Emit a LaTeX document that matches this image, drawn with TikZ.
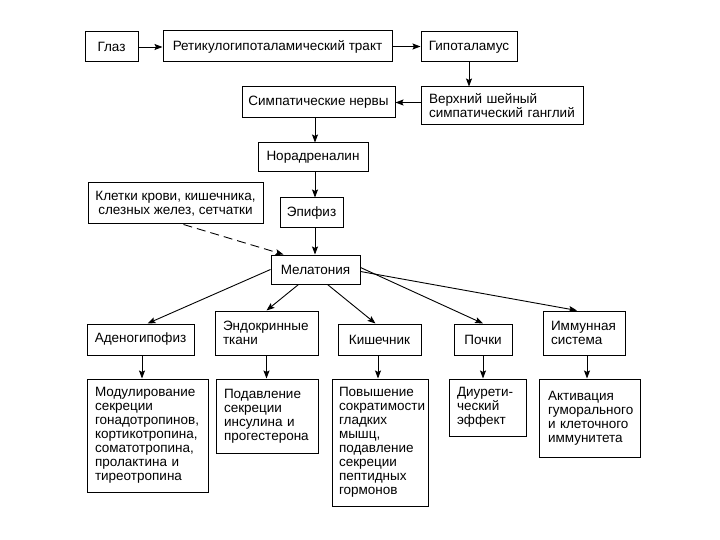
\documentclass[tikz,border=0pt]{standalone}
\usepackage{fontspec}
\setmainfont{Liberation Sans}
\usetikzlibrary{arrows.meta,calc}
\begin{document}
\begin{tikzpicture}[x=1pt,y=-1pt,
  box/.style={draw,line width=1pt,inner sep=0pt,align=center,font=\fontsize{13.5}{14}\selectfont},
  lbox/.style={draw,line width=1pt,inner xsep=8pt,inner ysep=0pt,align=left,font=\fontsize{13.5}{14}\selectfont},
  arr/.style={line width=0.9pt,-{Stealth[length=8pt,width=6pt,inset=1.5pt]}}]
\useasboundingbox (0,0) rectangle (720,540);
% top row
\node[box,minimum width=53pt,minimum height=30pt] (glaz) at (111.5,47) {Глаз};
\node[box,minimum width=229pt,minimum height=31pt] (ret) at (277.5,46.5) {Ретикулогипоталамический тракт};
\node[box,minimum width=96pt,minimum height=30pt] (gipo) at (469,47) {Гипоталамус};
\node[lbox,text width=146pt,minimum height=38pt] (gang) at (502,106) {Верхний шейный\\симпатический ганглий};
\node[box,minimum width=153pt,minimum height=31pt] (simp) at (318.5,102.5) {Симпатические нервы};
\node[box,minimum width=110pt,minimum height=29pt] (norad) at (313,157.5) {Норадреналин};
\node[box,minimum width=63pt,minimum height=30pt] (epif) at (311.5,213) {Эпифиз};
\node[box,minimum width=175pt,minimum height=41pt] (klet) at (175.5,203.5) {Клетки крови, кишечника,\\слезных желез, сетчатки};
\node[box,minimum width=89pt,minimum height=29pt] (melat) at (315.5,269.5) {Мелатония};
% middle row
\node[box,minimum width=107pt,minimum height=31pt] (aden) at (140.5,339.5) {Аденогипофиз};
\node[lbox,text width=87pt,minimum height=44pt] (endo) at (266.5,333) {Эндокринные\\ткани};
\node[box,minimum width=83pt,minimum height=31pt] (kish) at (379.5,339.5) {Кишечник};
\node[box,minimum width=58pt,minimum height=31pt] (pochki) at (483,339.5) {Почки};
\node[lbox,text width=66pt,minimum height=44pt] (immun) at (584,333) {Иммунная\\система};
% bottom row
\node[lbox,text width=105pt,minimum height=113pt] (mod) at (147.5,435.5) {Модулирование\\секреции\\гонадотропинов,\\кортикотропина,\\соматотропина,\\пролактина и\\тиреотропина};
\node[lbox,text width=86pt,minimum height=74pt] (endo2) at (267,416) {Подавление\\секреции\\инсулина и\\прогестерона};
\node[lbox,inner xsep=7pt,text width=82pt,minimum height=127pt] (kish2) at (380,442.5) {Повышение\\сократимости\\гладких\\мышц,\\подавление\\секреции\\пептидных\\гормонов};
\node[lbox,text width=61pt,minimum height=57pt] (poch2) at (487.5,407.5) {Диурети-\\ческий\\эффект};
\node[lbox,inner xsep=9pt,text width=83pt,minimum height=78pt] (imm2) at (589.5,418) {Активация\\гуморального\\и клеточного\\иммунитета};
\coordinate (sp) at (315,0);
% connectors
\draw[arr] (glaz.east) -- (glaz.east -| ret.west);
\draw[arr] (ret.east) -- (ret.east -| gipo.west);
\draw[arr] (gipo.south) -- (gipo.south |- gang.north);
\draw[arr] (simp.east -| gang.west) -- (simp.east);
\draw[arr] (simp.south -| sp) -- (norad.north -| sp);
\draw[arr] (norad.south -| sp) -- (epif.north -| sp);
\draw[arr] (epif.south -| sp) -- (melat.north -| sp);
\draw[arr,dashed,dash pattern=on 9pt off 5pt] ([xshift=8pt]klet.south) -- ([xshift=-32pt]melat.north);
\draw[arr] (melat.west) -- ([xshift=7pt]aden.north);
\draw[arr] ([xshift=-17pt]melat.south) -- (endo.north);
\draw[arr] ([xshift=12pt]melat.south) -- ([xshift=-4pt]kish.north);
\draw[arr] ([yshift=2pt]melat.east) -- (pochki.north);
\draw[arr] ([yshift=-2pt]melat.east) -- ([xshift=-7pt]immun.north);
\draw[arr] ([xshift=1.5pt]aden.south) -- ([xshift=1.5pt]aden.south |- mod.north);
\draw[arr] (endo.south) -- (endo.south |- endo2.north);
\draw[arr] ([xshift=-1.5pt]kish.south) -- ([xshift=-1.5pt]kish.south |- kish2.north);
\draw[arr] (pochki.south) -- (pochki.south |- poch2.north);
\draw[arr] ([xshift=3pt]immun.south) -- ([xshift=3pt]immun.south |- imm2.north);
\end{tikzpicture}
\end{document}
